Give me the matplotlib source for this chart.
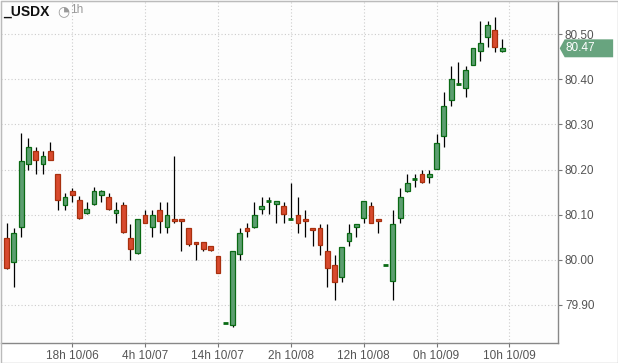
import matplotlib
matplotlib.use("Agg")
import matplotlib.pyplot as plt
from matplotlib.patches import Polygon, Rectangle
import numpy as np

plt.rcParams['font.family'] = ['Liberation Sans', 'DejaVu Sans']

# hourly candles, index 0 = 18h 10/06
idx = list(range(-9, 60))
opens = [80.049, 79.994, 80.073, 80.212, 80.240, 80.212, 80.240, 80.191, 80.121,
         80.152, 80.132, 80.104, 80.123, 80.144, 80.140, 80.104, 80.121, 80.049, 80.014,
         80.100, 80.073, 80.111, 80.073, 80.091, 80.091, 80.071, 80.040, 80.040, 80.030,
         80.009, 79.860, 79.854, 80.013, 80.071, 80.073, 80.113, 80.130, 80.123, 80.120,
         80.090, 80.100, 80.091, 80.071, 80.071, 80.020, 79.989, 79.962, 80.042, 80.073,
         80.093, 80.120, 80.091, 79.988, 79.953, 80.093, 80.152, 80.178, 80.191, 80.183,
         80.201, 80.274, 80.354, 80.389, 80.382, 80.432, 80.462, 80.493, 80.509, 80.462]
highs = [80.081, 80.070, 80.281, 80.269, 80.249, 80.240, 80.261, 80.191, 80.149,
         80.160, 80.141, 80.129, 80.161, 80.154, 80.149, 80.129, 80.129, 80.080, 80.091,
         80.110, 80.110, 80.129, 80.129, 80.229, 80.091, 80.071, 80.040, 80.040, 80.030,
         80.009, 79.860, 80.020, 80.070, 80.081, 80.129, 80.140, 80.140, 80.131, 80.129,
         80.170, 80.140, 80.110, 80.071, 80.080, 80.080, 80.010, 80.029, 80.080, 80.080,
         80.131, 80.129, 80.091, 79.988, 80.110, 80.160, 80.189, 80.189, 80.200, 80.200,
         80.279, 80.371, 80.430, 80.439, 80.430, 80.469, 80.530, 80.530, 80.539, 80.490]
lows = [79.979, 79.939, 80.050, 80.200, 80.189, 80.189, 80.221, 80.110, 80.110,
        80.129, 80.090, 80.101, 80.121, 80.129, 80.110, 80.081, 80.059, 80.000, 80.012,
        80.082, 80.050, 80.060, 80.060, 80.082, 80.020, 80.031, 80.000, 80.020, 80.020,
        79.971, 79.860, 79.851, 80.000, 80.050, 80.070, 80.102, 80.101, 80.081, 80.081,
        80.088, 80.059, 80.050, 80.031, 80.010, 79.940, 79.911, 79.951, 80.031, 80.050,
        80.081, 80.082, 80.059, 79.988, 79.911, 80.081, 80.150, 80.161, 80.170, 80.170,
        80.201, 80.250, 80.340, 80.388, 80.360, 80.432, 80.440, 80.471, 80.460, 80.460]
closes = [79.982, 80.060, 80.220, 80.251, 80.221, 80.231, 80.221, 80.132, 80.140,
          80.143, 80.093, 80.112, 80.152, 80.152, 80.112, 80.111, 80.062, 80.023, 80.091,
          80.082, 80.100, 80.085, 80.100, 80.085, 80.085, 80.034, 80.034, 80.023, 80.022,
          79.971, 79.860, 80.020, 80.060, 80.064, 80.100, 80.120, 80.130, 80.131, 80.101,
          80.090, 80.082, 80.085, 80.065, 80.033, 79.982, 79.951, 80.029, 80.060, 80.080,
          80.131, 80.082, 80.085, 79.988, 80.080, 80.140, 80.171, 80.178, 80.172, 80.191,
          80.259, 80.341, 80.401, 80.389, 80.421, 80.469, 80.481, 80.520, 80.471, 80.469]

tick_pos = [0, 10, 20, 30, 40, 50, 60]
tick_labels = ["18h 10/06", "4h 10/07", "14h 10/07", "2h 10/08",
               "12h 10/08", "0h 10/09", "10h 10/09"]
y_ticks = [79.90, 80.00, 80.10, 80.20, 80.30, 80.40, 80.50]

UP_FILL, UP_EDGE = "#5c9e70", "#0a6a14"
DN_FILL, DN_EDGE = "#d84a2e", "#a8300e"

fig = plt.figure(figsize=(6.18, 3.63), dpi=100, facecolor="white")
ax = fig.add_axes([1 / 618, 20 / 363, 557 / 618, 342 / 363])
ax.set_facecolor("#fdfdfd")

x = np.array(idx)
o = np.array(opens)
h = np.array(highs)
l = np.array(lows)
c = np.array(closes)
up = c >= o
flat = np.isclose(o, c)

# wicks
ax.vlines(x, l, h, color="black", linewidth=0.9, zorder=2)

# bodies
for xi, oi, ci, u, f in zip(x, o, c, up, flat):
    if f:
        ax.hlines(oi, xi - 0.34, xi + 0.34, color=UP_EDGE, linewidth=2.0, zorder=3)
        continue
    ax.bar(xi, abs(ci - oi), bottom=min(oi, ci), width=0.66,
           color=UP_FILL if u else DN_FILL, edgecolor=UP_EDGE if u else DN_EDGE,
           linewidth=0.9, zorder=3)

ax.set_xlim(-9.77, 66.67)
ax.set_ylim(79.815, 80.574)

ax.set_xticks(tick_pos)
ax.set_xticklabels(tick_labels)
ax.set_yticks(y_ticks)
ax.set_yticklabels([f"{v:.2f}" for v in y_ticks])
ax.yaxis.tick_right()
ax.tick_params(axis="both", colors="#777777", labelcolor="#555555",
               labelsize=8.5, length=3, width=0.8)
ax.tick_params(axis="x", pad=2)
ax.tick_params(axis="y", pad=2)

ax.grid(True, color="#cccccc", linestyle=(0, (1, 2)), linewidth=0.8)
ax.set_axisbelow(True)
for side in ["top", "left"]:
    ax.spines[side].set_color("#bbbbbb")
for side in ["right", "bottom"]:
    ax.spines[side].set_color("#888888")
    ax.spines[side].set_linewidth(1.0)

# last price marker
last = closes[-1]
tr = ax.get_yaxis_transform()
dy = 9 / 452
marker = Polygon([[1.003, last], [1.012, last + dy], [1.099, last + dy],
                  [1.099, last - dy], [1.012, last - dy]],
                 closed=True, transform=tr, clip_on=False,
                 facecolor="#68a47f", edgecolor="none", zorder=5)
ax.add_patch(marker)
ax.text(1.013, last, f"{last:.2f}", transform=tr, color="white", fontsize=8.5,
        va="center", ha="left", zorder=6, clip_on=False)

# title
fig.text(3 / 618, 1 - 12 / 363, "_USDX", fontsize=10, fontweight="bold",
         color="#111111", va="center", ha="left")
fig.text(57 / 618, 1 - 11 / 363, "\u25d4", fontsize=10, color="#999999",
         va="center", ha="left", family="DejaVu Sans")
fig.text(70 / 618, 1 - 10 / 363, "1h", fontsize=8.5, color="#999999",
         va="center", ha="left")

# outer frame
fig.patches.append(Rectangle((0.5 / 618, 0.5 / 363), 617 / 618, 361.5 / 363,
                             transform=fig.transFigure, fill=False,
                             edgecolor="#bbbbbb", linewidth=1.0))

fig.savefig("out.png", dpi=100, facecolor="white")
